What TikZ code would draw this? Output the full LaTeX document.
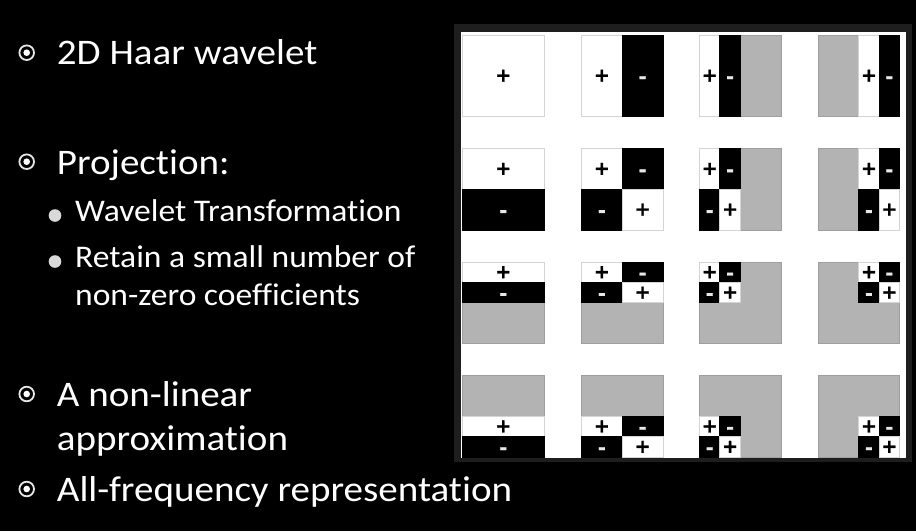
\documentclass[tikz,border=0pt]{standalone}
\usepackage{fontspec}
\setmainfont{Carlito}[FakeStretch=1.085, Ligatures=NoCommon]
\newfontfamily\lvltwofamily{Carlito}[FakeStretch=1.065, Ligatures=NoCommon]
\newfontfamily\signfamily{DejaVu Sans Bold}[FakeBold=1.2]
\definecolor{framegray}{HTML}{1E1E1E}
\definecolor{grayfill}{HTML}{B3B3B3}
\definecolor{grayedge}{HTML}{9E9E9E}
\definecolor{lightedge}{HTML}{D4D4D4}
\definecolor{dotgray}{HTML}{D9D9D9}
\definecolor{ringgray}{HTML}{E6E6E6}
\definecolor{minusgray}{HTML}{E8E8E8}
\tikzset{
  lvlone/.style={anchor=base west, inner sep=0pt, text=white, font=\fontsize{36}{36}\selectfont},
  lvltwo/.style={anchor=base west, inner sep=0pt, text=white, font=\lvltwofamily\fontsize{31.5}{31.5}\selectfont},
  wreg/.style={fill=white, draw=lightedge, line width=0.8pt},
  breg/.style={fill=black, draw=black, line width=0.8pt},
  greg/.style={fill=grayfill, draw=grayedge, line width=0.8pt},
  plussign/.style={inner sep=0pt, text=black, font=\signfamily\fontsize{19}{19}\selectfont},
  minussign/.style={inner sep=0pt, text=minusgray, yshift=-4pt, font=\signfamily\fontsize{19}{19}\selectfont},
  sq/.style 2 args={shift={(#1,#2)}, x=20.375pt, y=-20.375pt},
}
\newcommand{\Wr}[5]{\path[wreg] (#1,#2) rectangle (#3,#4);
  \node[plussign] (#5) at ({(#1+#3)/2},{(#2+#4)/2}) {+};}
\newcommand{\Br}[5]{\path[breg] (#1,#2) rectangle (#3,#4);
  \node[minussign] (#5) at ({(#1+#3)/2},{(#2+#4)/2}) {-};}
\newcommand{\Gr}[4]{\path[greg] (#1,#2) rectangle (#3,#4);}
\newcommand{\fisheye}[2]{\draw[ringgray, line width=1.8pt] (#1,#2) circle[radius=7.3];
  \fill[white] (#1,#2) circle[radius=3.3];}
\newcommand{\subdot}[2]{\fill[dotgray] (#1,#2) circle[radius=6.3];}
\begin{document}
\begin{tikzpicture}[x=1pt,y=-1pt]
\useasboundingbox (0,0) rectangle (916,531);
\fill[black] (0,0) rectangle (916,531);
% panel
\fill[framegray] (454,24) rectangle (912,462);
\fill[white] (461,32) rectangle (906,458);
% bullets and text
\fisheye{26.7}{52.7}
\node[lvlone] (t1) at (56.7,64.3) {2D Haar wavelet};
\fisheye{26.7}{161.7}
\node[lvlone] (t2) at (56.7,174) {Projection:};
\subdot{55}{215.5}
\node[lvltwo] (t3) at (75,221.7) {Wavelet Transformation};
\subdot{55}{261.5}
\node[lvltwo] (t4) at (75,267.3) {Retain a small number of};
\node[lvltwo] (t5) at (75,305) {non-zero coefficients};
\fisheye{26.7}{394}
\node[lvlone] (t6) at (56.7,406.7) {A non-linear};
\node[lvlone] (t7) at (56.7,450.7) {approximation};
\fisheye{26.7}{489}
\node[lvlone] (t8) at (56.7,501.7) {All-frequency representation};
% row 1
\begin{scope}[sq={462.5}{35}]
  \Wr{0}{0}{4}{4}{a1}
\end{scope}
\begin{scope}[sq={581.5}{35}]
  \Wr{0}{0}{2}{4}{a2}\Br{2}{0}{4}{4}{a3}
\end{scope}
\begin{scope}[sq={699.5}{35}]
  \Gr{2}{0}{4}{4}\Wr{0}{0}{1}{4}{a4}\Br{1}{0}{2}{4}{a5}
\end{scope}
\begin{scope}[sq={818}{35}]
  \Gr{0}{0}{2}{4}\Wr{2}{0}{3}{4}{a6}\Br{3}{0}{4}{4}{a7}
\end{scope}
% row 2
\begin{scope}[sq={462.5}{148.5}]
  \Wr{0}{0}{4}{2}{b1}\Br{0}{2}{4}{4}{b2}
\end{scope}
\begin{scope}[sq={581.5}{148.5}]
  \Wr{0}{0}{2}{2}{b3}\Br{2}{0}{4}{2}{b4}\Br{0}{2}{2}{4}{b5}\Wr{2}{2}{4}{4}{b6}
\end{scope}
\begin{scope}[sq={699.5}{148.5}]
  \Gr{2}{0}{4}{4}\Wr{0}{0}{1}{2}{b7}\Br{1}{0}{2}{2}{b8}\Br{0}{2}{1}{4}{b9}\Wr{1}{2}{2}{4}{b10}
\end{scope}
\begin{scope}[sq={818}{148.5}]
  \Gr{0}{0}{2}{4}\Wr{2}{0}{3}{2}{b11}\Br{3}{0}{4}{2}{b12}\Br{2}{2}{3}{4}{b13}\Wr{3}{2}{4}{4}{b14}
\end{scope}
% row 3
\begin{scope}[sq={462.5}{262}]
  \Gr{0}{2}{4}{4}\Wr{0}{0}{4}{1}{c1}\Br{0}{1}{4}{2}{c2}
\end{scope}
\begin{scope}[sq={581.5}{262}]
  \Gr{0}{2}{4}{4}\Wr{0}{0}{2}{1}{c3}\Br{2}{0}{4}{1}{c4}\Br{0}{1}{2}{2}{c5}\Wr{2}{1}{4}{2}{c6}
\end{scope}
\begin{scope}[sq={699.5}{262}]
  \Gr{0}{0}{4}{4}\Wr{0}{0}{1}{1}{c7}\Br{1}{0}{2}{1}{c8}\Br{0}{1}{1}{2}{c9}\Wr{1}{1}{2}{2}{c10}
\end{scope}
\begin{scope}[sq={818}{262}]
  \Gr{0}{0}{4}{4}\Wr{2}{0}{3}{1}{c11}\Br{3}{0}{4}{1}{c12}\Br{2}{1}{3}{2}{c13}\Wr{3}{1}{4}{2}{c14}
\end{scope}
% row 4
\begin{scope}[sq={462.5}{375.5}]
  \Gr{0}{0}{4}{2}\Wr{0}{2}{4}{3}{d1}\Br{0}{3}{4}{4}{d2}
\end{scope}
\begin{scope}[sq={581.5}{375.5}]
  \Gr{0}{0}{4}{2}\Wr{0}{2}{2}{3}{d3}\Br{2}{2}{4}{3}{d4}\Br{0}{3}{2}{4}{d5}\Wr{2}{3}{4}{4}{d6}
\end{scope}
\begin{scope}[sq={699.5}{375.5}]
  \Gr{0}{0}{4}{4}\Wr{0}{2}{1}{3}{d7}\Br{1}{2}{2}{3}{d8}\Br{0}{3}{1}{4}{d9}\Wr{1}{3}{2}{4}{d10}
\end{scope}
\begin{scope}[sq={818}{375.5}]
  \Gr{0}{0}{4}{4}\Wr{2}{2}{3}{3}{d11}\Br{3}{2}{4}{3}{d12}\Br{2}{3}{3}{4}{d13}\Wr{3}{3}{4}{4}{d14}
\end{scope}
\end{tikzpicture}
\end{document}
